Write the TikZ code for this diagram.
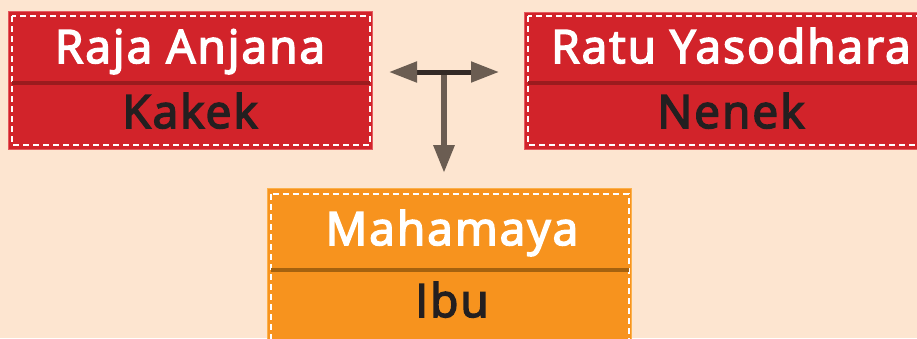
\documentclass[tikz,border=0pt]{standalone}
\usepackage{fontspec}
\setmainfont{Open Sans}
\newfontfamily\labfont{Open Sans}[FakeBold=3.5, LetterSpace=4.5]
\usetikzlibrary{arrows.meta}
\definecolor{bg}{HTML}{FDE5D0}
\definecolor{redbox}{HTML}{D2232A}
\definecolor{redline}{HTML}{E45A5E}
\definecolor{reddiv}{HTML}{9B1B1E}
\definecolor{orbox}{HTML}{F7931E}
\definecolor{orline}{HTML}{FBB04B}
\definecolor{ordiv}{HTML}{A5620F}
\definecolor{arrowc}{HTML}{6B5D52}
\definecolor{bardark}{HTML}{332A26}
\definecolor{txtdark}{HTML}{231F20}
\tikzset{
  redframe/.style={fill=redbox, draw=redline, line width=1pt},
  orframe/.style={fill=orbox, draw=orline, line width=1pt},
  stitch/.style={draw=white, line width=1.3pt, dash pattern=on 6pt off 4pt},
  title/.style={anchor=base, text=white, font=\labfont\fontsize{46}{46}\selectfont, inner sep=0pt},
  role/.style={anchor=base, text=txtdark, font=\labfont\fontsize{46}{46}\selectfont, inner sep=0pt},
  ftip/.tip={Triangle[length=28pt,width=20pt,color=arrowc]}
}
\begin{document}
\begin{tikzpicture}[x=1pt,y=-1pt]
\useasboundingbox (0,0) rectangle (917,338);
\clip (0,0) rectangle (917,338);
\fill[bg] (0,0) rectangle (917,338);
% left box
\path[redframe] (8,11) rectangle (372,149);
\path[stitch] (12,16) rectangle (370,145);
\draw[reddiv, line width=4pt] (12,83) -- (370,83);
\node[title] (raja) at (190,63) {Raja Anjana};
\node[role] (kakek) at (190,128) {Kakek};
% right box
\path[redframe] (524,12) rectangle (940,149);
\path[stitch] (528,16) rectangle (936,145);
\draw[reddiv, line width=4pt] (528,83) -- (936,83);
\node[title] (ratu) at (731,63) {Ratu Yasodhara};
\node[role] (nenek) at (731,128) {Nenek};
% bottom box
\path[orframe] (267,188) rectangle (631,345);
\path[stitch] (271,194) rectangle (629,345);
\draw[ordiv, line width=4pt] (271,270) -- (629,270);
\node[title] (maha) at (452,245) {Mahamaya};
\node[role] (ibu) at (452,317) {Ibu};
% connectors
\coordinate (j) at (444,72);
\coordinate (lt) at (389,72);
\coordinate (rt) at (499,72);
\coordinate (dt) at (444,173);
\draw[arrowc, line width=6pt, -{ftip}] (j) -- (dt);
\draw[bardark, line width=5pt, {ftip}-{ftip}] (lt) -- (rt);
\end{tikzpicture}
\end{document}
